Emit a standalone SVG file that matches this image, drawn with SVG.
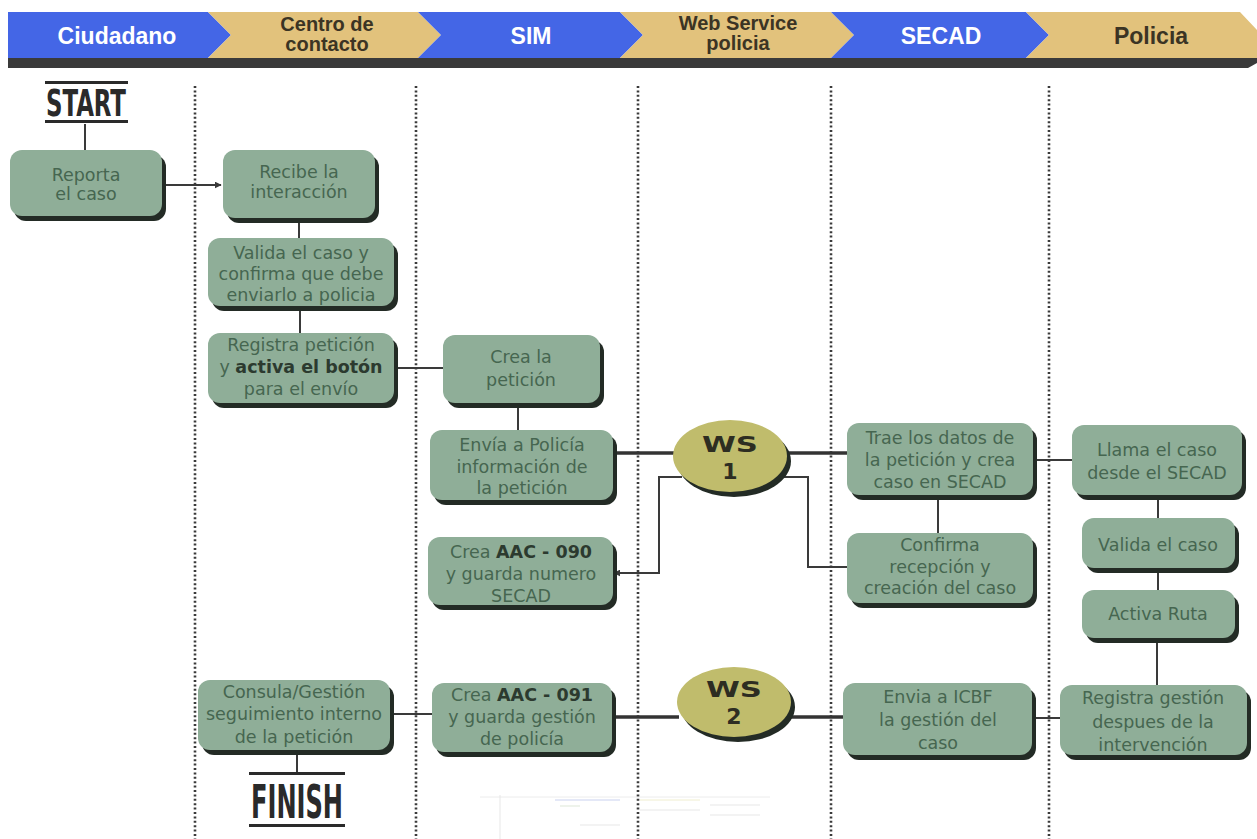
<svg xmlns="http://www.w3.org/2000/svg" width="1257" height="839" viewBox="0 0 1257 839">
<defs>
<style>
.blue{fill:#4466e6}
.tan{fill:#e2c27c}
.hw{font-family:"Liberation Sans",Arial,sans-serif;font-weight:bold;font-size:23px;fill:#ffffff;text-anchor:middle}
.hd{font-family:"Liberation Sans",Arial,sans-serif;font-weight:bold;font-size:20px;fill:#3b3424;text-anchor:middle}
.hs{font-size:23px}
.dot{stroke:#3a3a3a;stroke-width:2.6;stroke-dasharray:2 2.4;fill:none}
.sh{fill:#232b25}
.nd{fill:#8fae98}
.t{font-family:"DejaVu Sans",sans-serif;font-size:17.5px;fill:#466650;text-anchor:middle}
.b{font-weight:bold;fill:#2c3a2f}
.ws{fill:#c0bc6c}
.wt{font-family:"DejaVu Sans",sans-serif;font-weight:bold;font-size:22px;fill:#2d2d22;text-anchor:middle}
.c{stroke:#3a3a3a;stroke-width:2;fill:none}
.ck{stroke:#333333;stroke-width:3.5;fill:none}
.big{font-family:"DejaVu Sans Condensed","Liberation Sans Narrow",sans-serif;font-weight:bold;fill:#2a2a2a;text-anchor:middle}
</style>
<marker id="arr" viewBox="0 0 10 10" refX="9" refY="5" markerWidth="7" markerHeight="7" orient="auto" markerUnits="userSpaceOnUse">
<path d="M0,0 L10,5 L0,10 z" fill="#3a3a3a"/>
</marker>
</defs>
<rect width="1257" height="839" fill="#ffffff"/>

<g id="header">
<polygon points="8,58 1257,58 1257,63 1248,68 8,68" fill="#3a3a3a"/>
<polygon class="blue" points="8,12 208,12 231,35 208,58 8,58"/>
<polygon class="tan" points="208,12 418,12 441,35 418,58 208,58 231,35"/>
<polygon class="blue" points="418,12 620,12 643,35 620,58 418,58 441,35"/>
<polygon class="tan" points="620,12 831,12 854,35 831,58 620,58 643,35"/>
<polygon class="blue" points="831,12 1026,12 1049,35 1026,58 831,58 854,35"/>
<polygon class="tan" points="1026,12 1240,12 1257,30 1257,58 1026,58 1049,35"/>
<text class="hw" x="117" y="44">Ciudadano</text>
<text class="hd" x="327" y="31">Centro de</text>
<text class="hd" x="327" y="51">contacto</text>
<text class="hw" x="531" y="44">SIM</text>
<text class="hd" x="738" y="30">Web Service</text>
<text class="hd" x="738" y="50">policia</text>
<text class="hw" x="941" y="44">SECAD</text>
<text class="hd hs" x="1151" y="44">Policia</text>
</g>

<g id="lanes">
<line class="dot" x1="195" y1="86" x2="195" y2="839"/>
<line class="dot" x1="416" y1="86" x2="416" y2="839"/>
<line class="dot" x1="638" y1="86" x2="638" y2="839"/>
<line class="dot" x1="831" y1="86" x2="831" y2="839"/>
<line class="dot" x1="1049" y1="86" x2="1049" y2="839"/>
</g>

<g id="connectors">
<line class="c" x1="85" y1="124" x2="85" y2="150"/>
<line class="c" x1="166" y1="185" x2="221" y2="185" marker-end="url(#arr)"/>
<line class="c" x1="299" y1="218" x2="299" y2="238"/>
<line class="c" x1="300" y1="306" x2="300" y2="333"/>
<line class="c" x1="394" y1="368" x2="443" y2="368"/>
<line class="c" x1="518" y1="403" x2="518" y2="430"/>
<line class="ck" x1="613" y1="453" x2="675" y2="453"/>
<line class="ck" x1="786" y1="453" x2="847" y2="453"/>
<path class="c" d="M682,477 H659 V573 H614" marker-end="url(#arr)"/>
<path class="c" d="M780,477 H808 V567 H847"/>
<line class="c" x1="938" y1="495" x2="938" y2="533"/>
<line class="c" x1="1033" y1="460" x2="1072" y2="460"/>
<line class="c" x1="1158" y1="495" x2="1158" y2="518"/>
<line class="c" x1="1158" y1="568" x2="1158" y2="590"/>
<line class="c" x1="1157" y1="638" x2="1157" y2="685"/>
<line class="c" x1="1032" y1="718" x2="1060" y2="718"/>
<line class="ck" x1="789" y1="717" x2="843" y2="717"/>
<line class="ck" x1="612" y1="717" x2="679" y2="717"/>
<line class="c" x1="390" y1="714" x2="432" y2="714"/>
<line class="c" x1="297" y1="750" x2="297" y2="773"/>
</g>

<g id="start">
<rect x="45" y="81" width="83" height="3" fill="#2a2a2a"/>
<text class="big" x="86" y="116" font-size="38" textLength="80" lengthAdjust="spacingAndGlyphs">START</text>
<rect x="45" y="120" width="83" height="3" fill="#2a2a2a"/>
</g>

<g id="n1"><rect class="sh" x="14" y="155" width="152" height="66" rx="12"/><rect class="nd" x="10" y="150" width="152" height="66" rx="12"/>
<text class="t" x="86" y="181">Reporta</text><text class="t" x="86" y="200">el caso</text></g>

<g id="n2"><rect class="sh" x="227" y="155" width="152" height="68" rx="12"/><rect class="nd" x="223" y="150" width="152" height="68" rx="12"/>
<text class="t" x="299" y="178">Recibe la</text><text class="t" x="299" y="198">interacción</text></g>

<g id="n3"><rect class="sh" x="212" y="243" width="186" height="68" rx="12"/><rect class="nd" x="208" y="238" width="186" height="68" rx="12"/>
<text class="t" x="301" y="259">Valida el caso y</text><text class="t" x="301" y="280">confirma que debe</text><text class="t" x="301" y="301">enviarlo a policia</text></g>

<g id="n4"><rect class="sh" x="212" y="338" width="186" height="70" rx="12"/><rect class="nd" x="208" y="333" width="186" height="70" rx="12"/>
<text class="t" x="301" y="351">Registra petición</text><text class="t" x="301" y="373">y <tspan class="b">activa el botón</tspan></text><text class="t" x="301" y="395">para el envío</text></g>

<g id="n5"><rect class="sh" x="447" y="340" width="157" height="68" rx="12"/><rect class="nd" x="443" y="335" width="157" height="68" rx="12"/>
<text class="t" x="521" y="363">Crea la</text><text class="t" x="521" y="386">petición</text></g>

<g id="n6"><rect class="sh" x="434" y="435" width="183" height="70" rx="12"/><rect class="nd" x="430" y="430" width="183" height="70" rx="12"/>
<text class="t" x="522" y="451">Envía a Policía</text><text class="t" x="522" y="473">información de</text><text class="t" x="522" y="494">la petición</text></g>

<g id="n7"><rect class="sh" x="432" y="542" width="185" height="68" rx="12"/><rect class="nd" x="428" y="537" width="185" height="68" rx="12"/>
<text class="t" x="521" y="558">Crea <tspan class="b">AAC - 090</tspan></text><text class="t" x="521" y="580">y guarda numero</text><text class="t" x="521" y="602">SECAD</text></g>

<g id="ws1"><ellipse class="sh" cx="734" cy="461" rx="57" ry="36"/><ellipse class="ws" cx="730" cy="456" rx="57" ry="36"/>
<text class="wt" x="730" y="452" textLength="56" lengthAdjust="spacingAndGlyphs">WS</text><text class="wt" x="730" y="479">1</text></g>

<g id="n8"><rect class="sh" x="851" y="428" width="186" height="72" rx="12"/><rect class="nd" x="847" y="423" width="186" height="72" rx="12"/>
<text class="t" x="940" y="444">Trae los datos de</text><text class="t" x="940" y="466">la petición y crea</text><text class="t" x="940" y="488">caso en SECAD</text></g>

<g id="n9"><rect class="sh" x="851" y="538" width="186" height="70" rx="12"/><rect class="nd" x="847" y="533" width="186" height="70" rx="12"/>
<text class="t" x="940" y="551">Confirma</text><text class="t" x="940" y="573">recepción y</text><text class="t" x="940" y="594">creación del caso</text></g>

<g id="n10"><rect class="sh" x="1076" y="430" width="170" height="70" rx="12"/><rect class="nd" x="1072" y="425" width="170" height="70" rx="12"/>
<text class="t" x="1157" y="456">Llama el caso</text><text class="t" x="1157" y="479">desde el SECAD</text></g>

<g id="n11"><rect class="sh" x="1086" y="523" width="153" height="50" rx="12"/><rect class="nd" x="1082" y="518" width="153" height="50" rx="12"/>
<text class="t" x="1158" y="551">Valida el caso</text></g>

<g id="n12"><rect class="sh" x="1086" y="595" width="153" height="48" rx="12"/><rect class="nd" x="1082" y="590" width="153" height="48" rx="12"/>
<text class="t" x="1158" y="620">Activa Ruta</text></g>

<g id="n13"><rect class="sh" x="1064" y="690" width="187" height="70" rx="12"/><rect class="nd" x="1060" y="685" width="187" height="70" rx="12"/>
<text class="t" x="1153" y="704">Registra gestión</text><text class="t" x="1153" y="728">despues de la</text><text class="t" x="1153" y="751">intervención</text></g>

<g id="n14"><rect class="sh" x="847" y="688" width="189" height="72" rx="12"/><rect class="nd" x="843" y="683" width="189" height="72" rx="12"/>
<text class="t" x="938" y="703">Envia a ICBF</text><text class="t" x="938" y="726">la gestión del</text><text class="t" x="938" y="749">caso</text></g>

<g id="ws2"><ellipse class="sh" cx="738" cy="707" rx="57" ry="35"/><ellipse class="ws" cx="734" cy="702" rx="57" ry="35"/>
<text class="wt" x="734" y="697" textLength="56" lengthAdjust="spacingAndGlyphs">WS</text><text class="wt" x="734" y="724">2</text></g>

<g id="n15"><rect class="sh" x="436" y="688" width="180" height="69" rx="12"/><rect class="nd" x="432" y="683" width="180" height="69" rx="12"/>
<text class="t" x="522" y="701">Crea <tspan class="b">AAC - 091</tspan></text><text class="t" x="522" y="723">y guarda gestión</text><text class="t" x="522" y="745">de policía</text></g>

<g id="n16"><rect class="sh" x="202" y="685" width="192" height="70" rx="12"/><rect class="nd" x="198" y="680" width="192" height="70" rx="12"/>
<text class="t" x="294" y="698">Consula/Gestión</text><text class="t" x="294" y="720">seguimiento interno</text><text class="t" x="294" y="743">de la petición</text></g>

<g id="finish">
<rect x="249" y="772" width="96" height="3" fill="#2a2a2a"/>
<text class="big" x="297" y="818" font-size="46" textLength="92" lengthAdjust="spacingAndGlyphs">FINISH</text>
<rect x="249" y="824" width="96" height="3" fill="#2a2a2a"/>
</g>

<g id="thumb" opacity="0.35" stroke-width="1" fill="none">
<line x1="480" y1="797" x2="770" y2="797" stroke="#cccccc"/>
<line x1="500" y1="795" x2="500" y2="839" stroke="#bbbbbb"/>
<line x1="555" y1="800" x2="620" y2="800" stroke="#6b7fd6"/>
<line x1="560" y1="806" x2="580" y2="806" stroke="#9fbf8f"/>
<line x1="580" y1="825" x2="620" y2="825" stroke="#bbbbbb"/>
<line x1="640" y1="800" x2="700" y2="800" stroke="#d8d27a"/>
<line x1="640" y1="810" x2="700" y2="810" stroke="#bbbbbb"/>
<line x1="710" y1="805" x2="760" y2="805" stroke="#bbbbbb"/>
<line x1="710" y1="815" x2="760" y2="815" stroke="#bbbbbb"/>
</g>
</svg>
